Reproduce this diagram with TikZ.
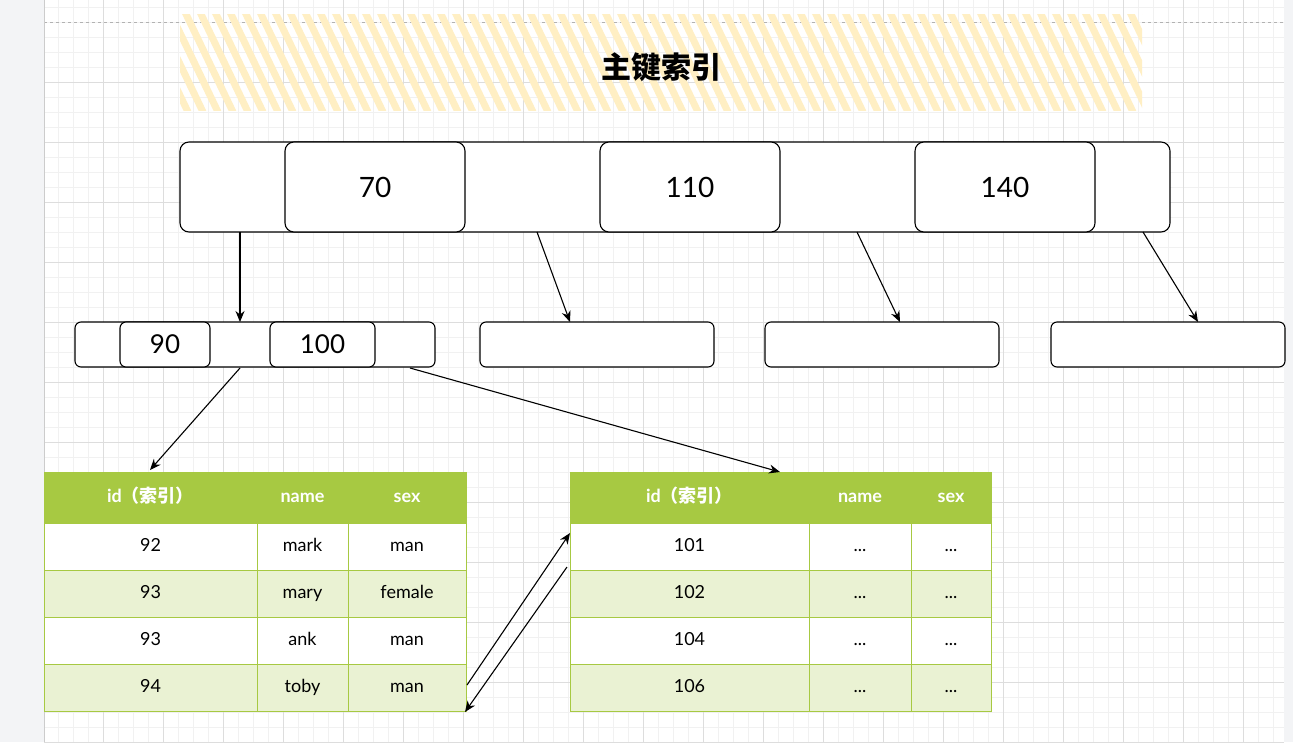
\documentclass[tikz,border=0pt]{standalone}
\usepackage{fontspec}
\setmainfont{Lato}
\newfontfamily\cjk{Noto Sans CJK SC}
\usetikzlibrary{arrows.meta,calc}
\definecolor{hdr}{HTML}{A7C942}
\definecolor{alt}{HTML}{EAF2D3}
\definecolor{hatchc}{HTML}{FFEFC4}
\definecolor{side}{HTML}{F3F4F6}
\definecolor{minorg}{HTML}{F1F1F1}
\definecolor{majorg}{HTML}{DDDDDD}
\tikzset{
  box/.style={draw=black, fill=white, line width=1.1pt, rounded corners=9pt, inner sep=0pt, outer sep=0pt},
  bigbox/.style={box, minimum height=90pt, font=\fontsize{28}{30}\selectfont},
  smallbox/.style={box, rounded corners=6pt, minimum height=45pt, font=\fontsize{26}{28}\selectfont},
  cell/.style={draw=hdr, line width=0.8pt, inner sep=0pt, outer sep=0pt, minimum height=47pt, text height=13pt, text depth=4pt, font=\fontsize{18}{20}\selectfont},
  hcell/.style={cell, fill=hdr, minimum height=51pt, text=white, font=\bfseries\fontsize{18}{20}\selectfont},
  wcell/.style={cell, fill=white},
  gcell/.style={cell, fill=alt},
  arr/.style={draw=black, line width=1.1pt, -{Stealth[length=11pt,width=9pt]}},
  hatchline/.style={draw=hatchc, line width=7pt, line cap=round},
  titlefont/.style={font=\cjk\bfseries\fontsize{30}{32}\selectfont}
}
\begin{document}
\begin{tikzpicture}[x=1pt,y=-1pt]
\useasboundingbox (0,0) rectangle (1293,742);
% background
\fill[side] (0,0) rectangle (1293,742);
\fill[white] (44,0) rectangle (1284,742);
\foreach \x in {58,73,...,1283} \draw[minorg, line width=0.8pt] (\x,0) -- (\x,742);
\foreach \y in {7,22,...,742} \draw[minorg, line width=0.8pt] (44,\y) -- (1284,\y);
\foreach \x in {103,163,...,1283} \draw[majorg, line width=0.8pt] (\x,0) -- (\x,742);
\foreach \y in {82,142,...,742} \draw[majorg, line width=0.8pt] (44,\y) -- (1284,\y);
\draw[gray!60, dashed, line width=0.8pt] (44,22) -- (1284,22);
\draw[gray!40, line width=1pt] (44,0) -- (44,742);
% title hatch
\begin{scope}
\clip (180,14) rectangle (1142,110);
\foreach \x in {110,125,...,1160} \draw[hatchline] (\x,12) -- (\x+48,112);
\end{scope}
\node[titlefont] (title) at (661,67) {主键索引};
% root node
\node[bigbox, minimum width=990pt] (root) at (675,187) {};
\node[bigbox, minimum width=180pt] (k70) at (375,187) {70};
\node[bigbox, minimum width=180pt] (k110) at (690,187) {110};
\node[bigbox, minimum width=180pt] (k140) at (1005,187) {140};
% second level
\node[smallbox, minimum width=360pt] (l1) at (255,344.5) {};
\node[smallbox, minimum width=90pt] (k90) at (165,344.5) {90};
\node[smallbox, minimum width=105pt] (k100) at (322.5,344.5) {100};
\node[smallbox, minimum width=234pt] (l2) at (597,344.5) {};
\node[smallbox, minimum width=234pt] (l3) at (882,344.5) {};
\node[smallbox, minimum width=234pt] (l4) at (1168,344.5) {};
% table 1
\node[hcell, minimum width=213pt] (a00) at (150.5,497.5) {id{\cjk（索引）}};
\node[hcell, minimum width=91pt] (a01) at (302.5,497.5) {name};
\node[hcell, minimum width=118pt] (a02) at (407,497.5) {sex};
\node[wcell, minimum width=213pt] (a10) at (150.5,546.5) {92};
\node[wcell, minimum width=91pt] (a11) at (302.5,546.5) {mark};
\node[wcell, minimum width=118pt] (a12) at (407,546.5) {man};
\node[gcell, minimum width=213pt] (a20) at (150.5,593.5) {93};
\node[gcell, minimum width=91pt] (a21) at (302.5,593.5) {mary};
\node[gcell, minimum width=118pt] (a22) at (407,593.5) {female};
\node[wcell, minimum width=213pt] (a30) at (150.5,640.5) {93};
\node[wcell, minimum width=91pt] (a31) at (302.5,640.5) {ank};
\node[wcell, minimum width=118pt] (a32) at (407,640.5) {man};
\node[gcell, minimum width=213pt] (a40) at (150.5,687.5) {94};
\node[gcell, minimum width=91pt] (a41) at (302.5,687.5) {toby};
\node[gcell, minimum width=118pt] (a42) at (407,687.5) {man};
% table 2
\node[hcell, minimum width=239pt] (b00) at (689.5,497.5) {id{\cjk（索引）}};
\node[hcell, minimum width=102pt] (b01) at (860,497.5) {name};
\node[hcell, minimum width=80pt] (b02) at (951,497.5) {sex};
\node[wcell, minimum width=239pt] (b10) at (689.5,546.5) {101};
\node[wcell, minimum width=102pt] (b11) at (860,546.5) {...};
\node[wcell, minimum width=80pt] (b12) at (951,546.5) {...};
\node[gcell, minimum width=239pt] (b20) at (689.5,593.5) {102};
\node[gcell, minimum width=102pt] (b21) at (860,593.5) {...};
\node[gcell, minimum width=80pt] (b22) at (951,593.5) {...};
\node[wcell, minimum width=239pt] (b30) at (689.5,640.5) {104};
\node[wcell, minimum width=102pt] (b31) at (860,640.5) {...};
\node[wcell, minimum width=80pt] (b32) at (951,640.5) {...};
\node[gcell, minimum width=239pt] (b40) at (689.5,687.5) {106};
\node[gcell, minimum width=102pt] (b41) at (860,687.5) {...};
\node[gcell, minimum width=80pt] (b42) at (951,687.5) {...};
% arrows root -> level 2
\draw[arr] ($(root.south west)+(60,0)$) -- ($(l1.north west)+(165,0)$);
\draw[arr] ($(root.south west)+(357,0)$) -- ($(l2.north west)+(90,0)$);
\draw[arr] ($(root.south west)+(677,0)$) -- ($(l3.north west)+(135,0)$);
\draw[arr] ($(root.south west)+(963,0)$) -- ($(l4.north west)+(147,0)$);
% level 2 -> tables
\draw[arr] ($(l1.south west)+(165,1)$) -- ($(a00.north west)+(106,-2)$);
\draw[arr] ($(l1.south west)+(335,1)$) -- ($(b00.north west)+(210,0)$);
% between tables
\draw[arr] ($(a42.east)+(1,-2.5)$) -- ($(b10.west)+(0,-13.5)$);
\draw[arr] ($(b10.south west)+(-3,-3)$) -- ($(a42.south east)+(-1,1)$);
\end{tikzpicture}
\end{document}
